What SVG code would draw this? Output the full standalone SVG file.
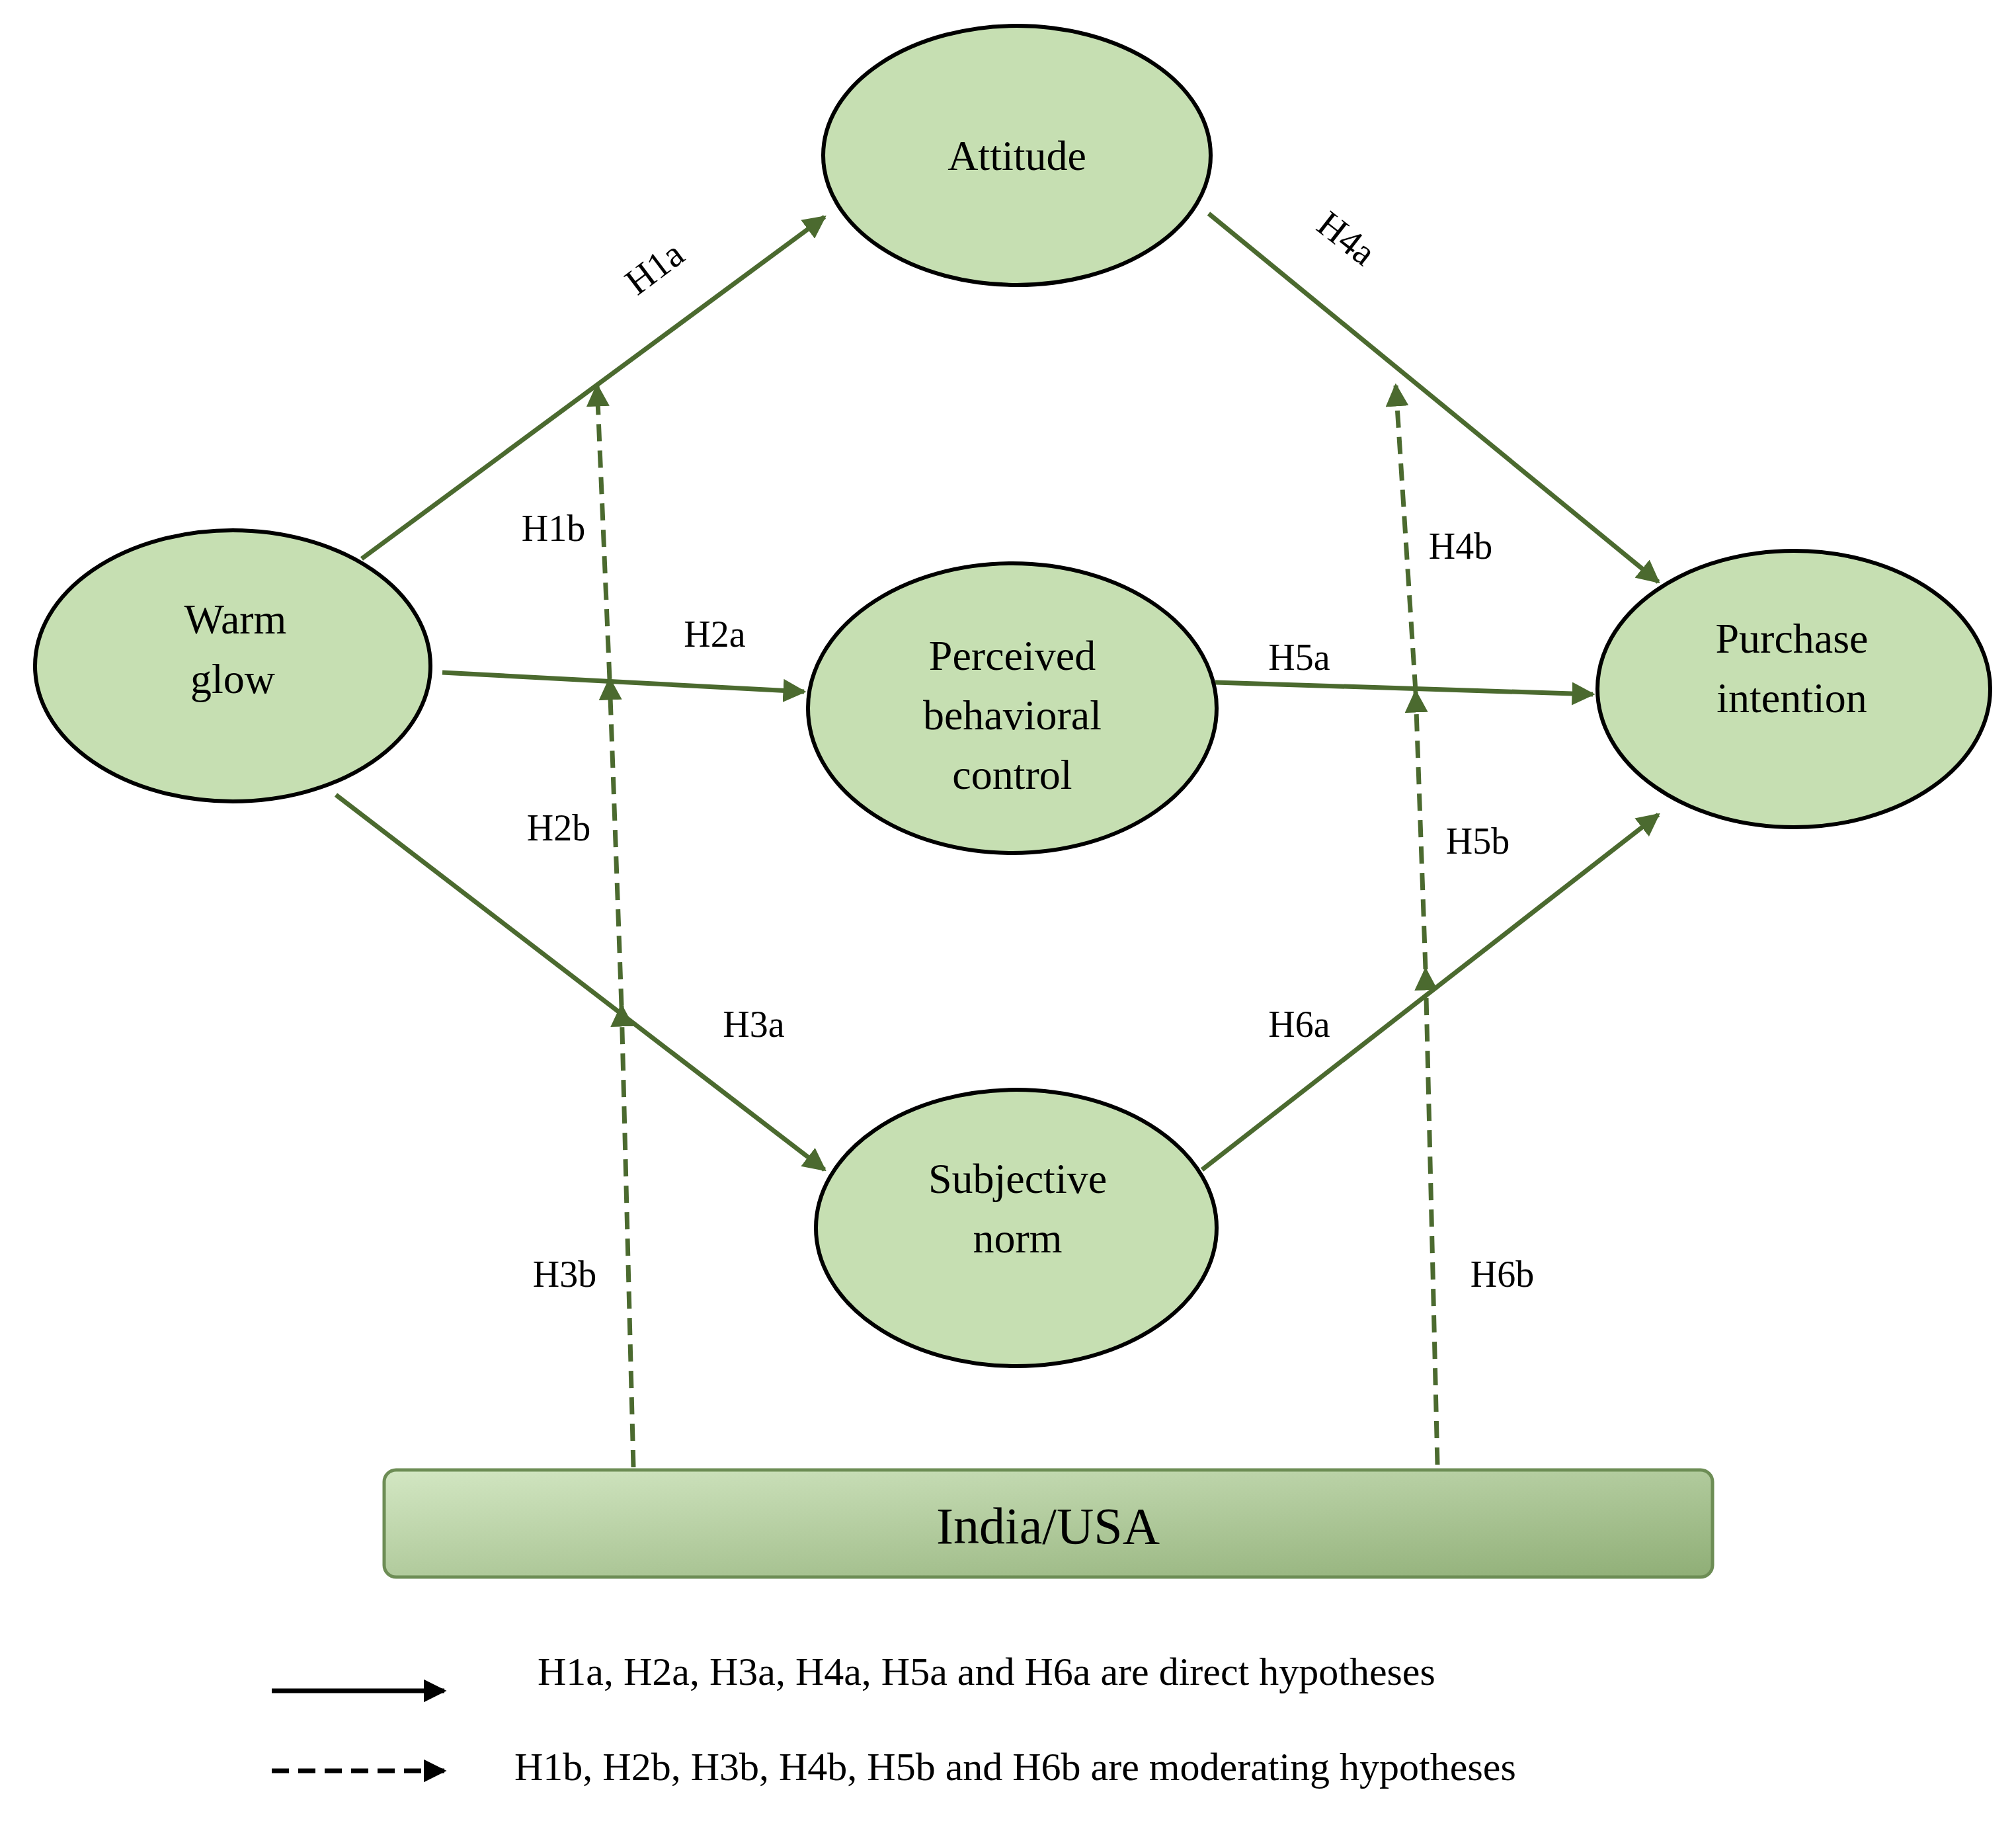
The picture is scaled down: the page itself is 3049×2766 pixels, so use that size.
<svg xmlns="http://www.w3.org/2000/svg" width="3049" height="2766" viewBox="0 0 3049 2766">
<style>
.n{fill:#c6dfb2;stroke:#000;stroke-width:6}
.t{font-family:"Liberation Serif",serif;font-size:64px;fill:#000;text-anchor:middle}
.l{font-family:"Liberation Serif",serif;font-size:56px;fill:#000;text-anchor:middle}
.s{stroke:#4b6a2f;stroke-width:7;fill:none;marker-end:url(#g)}
.d{stroke:#4b6a2f;stroke-width:7;fill:none;stroke-dasharray:26 14;marker-end:url(#g)}
</style>
<defs>
<marker id="g" viewBox="0 0 10 10" refX="9" refY="5" markerWidth="5" markerHeight="5" orient="auto" markerUnits="strokeWidth"><path d="M0,0L10,5L0,10z" fill="#4b6a2f"/></marker>
<marker id="k" viewBox="0 0 10 10" refX="9" refY="5" markerWidth="5" markerHeight="5" orient="auto" markerUnits="strokeWidth"><path d="M0,0L10,5L0,10z" fill="#000"/></marker>
<linearGradient id="bg" x1="0" y1="0" x2="1" y2="1"><stop offset="0" stop-color="#d3e7c3"/><stop offset="1" stop-color="#8fae76"/></linearGradient>
</defs>
<rect width="3049" height="2766" fill="#fff"/>
<g id="connectors">
<path class="s" d="M547,845L1247,328"/>
<path class="s" d="M1828,323L2508,880"/>
<path class="s" d="M669,1017L1216,1046"/>
<path class="s" d="M1838,1032L2409,1050"/>
<path class="s" d="M508,1202L1247,1769"/>
<path class="s" d="M1818,1769L2508,1232"/>
<path class="d" d="M958,2219L940,1521"/>
<path class="d" d="M940,1521L922,1027"/>
<path class="d" d="M922,1027L903,583"/>
<path class="d" d="M2174,2215L2156,1466"/>
<path class="d" d="M2156,1466L2141,1046"/>
<path class="d" d="M2141,1046L2111,583"/>
</g>
<g id="labels">
<text class="l" transform="translate(1001,420) rotate(-37)">H1a</text>
<text class="l" transform="translate(2025,375) rotate(38)">H4a</text>
<text class="l" x="837" y="818">H1b</text>
<text class="l" x="1081" y="978">H2a</text>
<text class="l" x="845" y="1271">H2b</text>
<text class="l" x="1140" y="1568">H3a</text>
<text class="l" x="854" y="1946">H3b</text>
<text class="l" x="2209" y="845">H4b</text>
<text class="l" x="1965" y="1013">H5a</text>
<text class="l" x="2235" y="1291">H5b</text>
<text class="l" x="1965" y="1568">H6a</text>
<text class="l" x="2272" y="1946">H6b</text>
</g>
<g id="attitude"><ellipse class="n" cx="1538" cy="235" rx="293" ry="196"/><text class="t" x="1538" y="257">Attitude</text></g>
<g id="warmglow"><ellipse class="n" cx="352" cy="1007" rx="299" ry="205"/><text class="t" x="356" y="958">Warm</text><text class="t" x="352" y="1048">glow</text></g>
<g id="pbc"><ellipse class="n" cx="1531" cy="1071" rx="309" ry="219"/><text class="t" x="1531" y="1013">Perceived</text><text class="t" x="1531" y="1103">behavioral</text><text class="t" x="1531" y="1193">control</text></g>
<g id="purchase"><ellipse class="n" cx="2713" cy="1042" rx="297" ry="209"/><text class="t" x="2710" y="987">Purchase</text><text class="t" x="2710" y="1077">intention</text></g>
<g id="subjnorm"><ellipse class="n" cx="1537" cy="1857" rx="303" ry="209"/><text class="t" x="1539" y="1804">Subjective</text><text class="t" x="1539" y="1894">norm</text></g>
<g id="country"><rect x="581" y="2223" width="2009" height="162" rx="18" fill="url(#bg)" stroke="#6d8d55" stroke-width="5"/><text class="t" x="1585" y="2334" style="font-size:78px">India/USA</text></g>
<g id="legend">
<path d="M411,2557L672,2557" stroke="#000" stroke-width="7" marker-end="url(#k)"/>
<path d="M411,2678L672,2678" stroke="#000" stroke-width="7" stroke-dasharray="26 14" marker-end="url(#k)"/>
<text class="l" x="813" y="2548" style="text-anchor:start;font-size:60px">H1a, H2a, H3a, H4a, H5a and H6a are direct hypotheses</text>
<text class="l" x="778" y="2692" style="text-anchor:start;font-size:60px">H1b, H2b, H3b, H4b, H5b and H6b are moderating hypotheses</text>
</g>
</svg>
